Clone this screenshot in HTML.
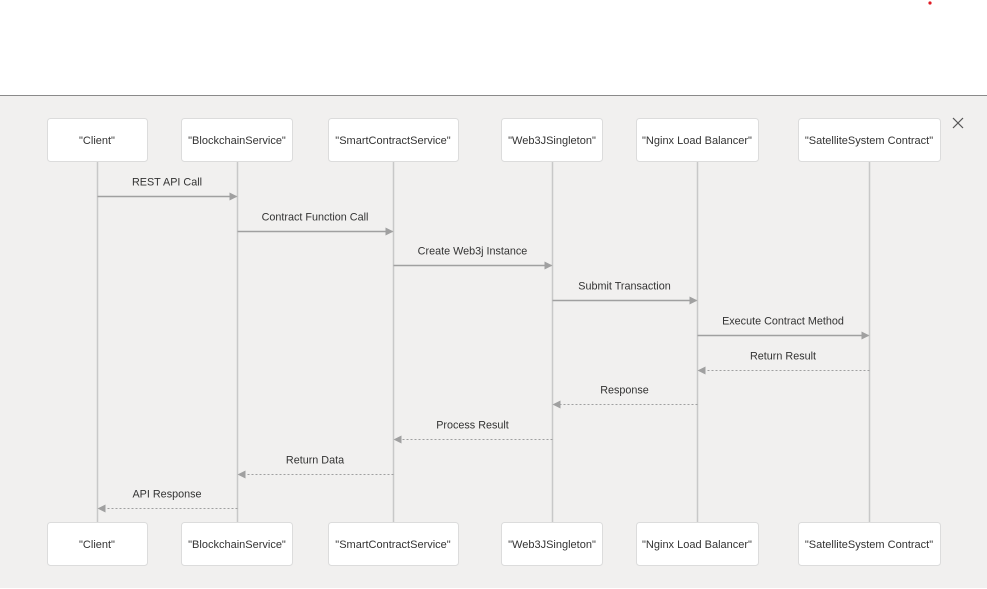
<!DOCTYPE html>
<html><head><meta charset="utf-8"><style>
html,body{margin:0;padding:0;width:987px;height:589px;overflow:hidden;background:#fff;font-family:"Liberation Sans",sans-serif}
</style></head><body>
<svg width="987" height="589" xmlns="http://www.w3.org/2000/svg">
<circle cx="930" cy="3" r="1.6" fill="#e01b24"/>
<rect x="0" y="95" width="987" height="493" fill="#f1f0ef"/>
<line x1="0" y1="95.5" x2="987" y2="95.5" stroke="#8a8a8a" stroke-width="1"/>
<g stroke="#555" stroke-width="1.2"><line x1="953" y1="118" x2="963" y2="128"/><line x1="963" y1="118" x2="953" y2="128"/></g>
<defs><marker id="ah" markerWidth="8" markerHeight="8" refX="7" refY="4" orient="auto" markerUnits="userSpaceOnUse"><path d="M0,0 L8,4 L0,8 Z" fill="#a0a0a0"/></marker></defs>
<g id="lifelines"></g><g id="boxes"></g><g id="msgs"></g>
</svg>
<script>
const participants=["\"Client\"","\"BlockchainService\"","\"SmartContractService\"","\"Web3JSingleton\"","\"Nginx Load Balancer\"","\"SatelliteSystem Contract\""];
const boxLeft=[47,181,328,501,636,798];
const boxRight=[147,292,458,602,758,940];
const msgFrom=[0,1,2,3,4,5,4,3,2,1];
const msgTo=[1,2,3,4,5,4,3,2,1,0];
const msgLabels=["REST API Call","Contract Function Call","Create Web3j Instance","Submit Transaction","Execute Contract Method","Return Result","Response","Process Result","Return Data","API Response"];
const msgDashed=[false,false,false,false,false,true,true,true,true,true];
const NS="http://www.w3.org/2000/svg";
const mk=(t,a)=>{const e=document.createElementNS(NS,t);for(const k in a)e.setAttribute(k,a[k]);return e;};
const cx=i=>Math.round((boxLeft[i]+boxRight[i])/2);
const msgY=k=>196+k*34.7;
const LL=document.getElementById('lifelines'),BX=document.getElementById('boxes'),MS=document.getElementById('msgs');
participants.forEach((p,i)=>{
  const l=mk('line',{x1:cx(i)+0.5,x2:cx(i)+0.5,y1:161,y2:522,stroke:'#c8c8c8','stroke-width':1.5});
  
  
  LL.appendChild(l);
  [118,522].forEach((y,j)=>{
    const g=mk('g',{});
    
    
    g.appendChild(mk('rect',{x:boxLeft[i]+0.5,y:y+0.5,width:boxRight[i]-boxLeft[i],height:43,rx:3,fill:'#fff',stroke:'#dcdcdc'}));
    const t=mk('text',{x:cx(i),y:y+26,'text-anchor':'middle','font-size':'11',fill:'#333'});
    t.textContent=p;g.appendChild(t);BX.appendChild(g);
  });
});
msgLabels.forEach((lab,k)=>{
  const y=Math.round(msgY(k))+0.5,a=cx(msgFrom[k]),b=cx(msgTo[k]);
  const dir=b>a?1:-1;
  const g=mk('g',{});
  
  
  const l=mk('line',{x1:a+0.5,y1:y,x2:b+0.5-dir*1,y2:y,stroke:'#a0a0a0','stroke-width':msgDashed[k]?1:1.5,'marker-end':'url(#ah)'});
  if(msgDashed[k])l.setAttribute('stroke-dasharray','2,2');
  g.appendChild(l);
  const t=mk('text',{x:(a+b)/2,y:y-11,'text-anchor':'middle','font-size':'10.8',fill:'#333'});
  t.textContent=lab;g.appendChild(t);MS.appendChild(g);
});
</script>
</body></html>
